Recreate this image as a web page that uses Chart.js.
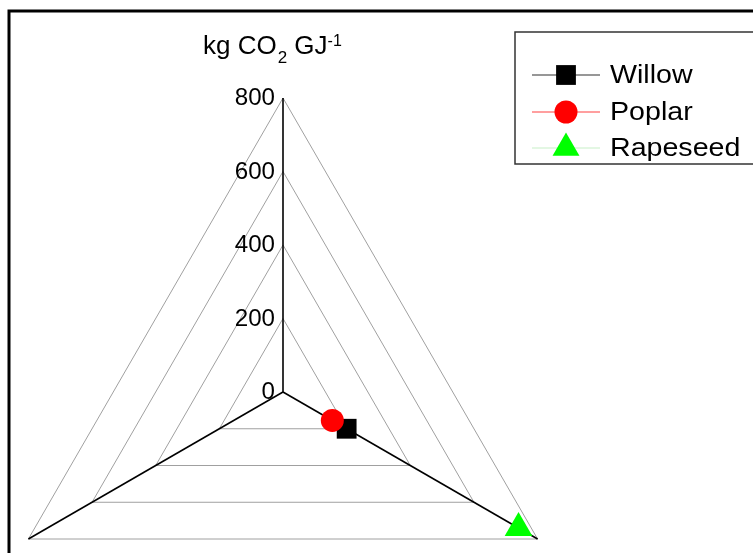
<!DOCTYPE html>
<html>
<head>
<meta charset="utf-8">
<script src="https://cdn.jsdelivr.net/npm/chart.js@4.4.1/dist/chart.umd.min.js"></script>
<style>
  html, body { margin: 0; padding: 0; background: #fff; overflow: hidden; width: 753px; height: 553px; }
  #wrap { position: absolute; left: -20px; top: 0; }
</style>
</head>
<body>
<div id="wrap"><canvas id="c" width="800" height="700"></canvas></div>
<script>
// three unlabelled radar axes, only the 2nd one carries values
const axes = ['', '', ''];
const seriesNames = ['Willow', 'Poplar', 'Rapeseed'];
const willow = [null, 200, null];
const poplar = [null, 155, null];
const rapeseed = [null, 740, null];
const tickValues = [0, 200, 400, 600, 800];
const tickLabels = ['0', '200', '400', '600', '800'];

const OX = 20; // canvas is shifted 20px left of the page
const FONT = '"Liberation Sans", Arial, sans-serif';

const decor = {
  id: 'decor',
  afterDraw(chart) {
    const ctx = chart.ctx;
    const r = chart.scales.r;
    ctx.save();

    // plot frame (left + top edges visible)
    ctx.strokeStyle = '#000';
    ctx.lineWidth = 3;
    ctx.beginPath();
    ctx.moveTo(9 + OX, 720);
    ctx.lineTo(9 + OX, 11);
    ctx.lineTo(800, 11);
    ctx.stroke();

    // tick labels left of the vertical axis
    ctx.fillStyle = '#000';
    ctx.font = '23px ' + FONT;
    ctx.textAlign = 'right';
    ctx.textBaseline = 'middle';
    r.ticks.forEach(t => {
      const d = r.getDistanceFromCenterForValue(t.value);
      ctx.save();
      ctx.translate(r.xCenter - 8, r.yCenter - d + 1);
      ctx.scale(1.05, 1);
      ctx.fillText(t.label, 0, 0);
      ctx.restore();
    });

    // axis title: kg CO2 GJ-1
    ctx.textAlign = 'left';
    ctx.textBaseline = 'alphabetic';
    let x = 203 + OX;
    ctx.font = '26px ' + FONT;
    ctx.fillText('kg CO', x, 54);
    x += ctx.measureText('kg CO').width + 1;
    ctx.font = '17px ' + FONT;
    ctx.fillText('2', x, 63);
    x += ctx.measureText('2').width;
    ctx.font = '26px ' + FONT;
    ctx.fillText(' GJ', x, 54);
    x += ctx.measureText(' GJ').width;
    ctx.font = '16px ' + FONT;
    ctx.fillText('-1', x, 46);

    // legend box
    ctx.strokeStyle = '#333';
    ctx.lineWidth = 1.5;
    ctx.strokeRect(515 + OX, 32, 300, 132);
    const rows = [75, 112, 148];
    chart.data.datasets.forEach((ds, i) => {
      const y = rows[i];
      ctx.strokeStyle = ds.borderColor;
      ctx.lineWidth = 1.2;
      ctx.beginPath();
      ctx.moveTo(532 + OX, y);
      ctx.lineTo(600 + OX, y);
      ctx.stroke();
      ctx.fillStyle = ds.pointBackgroundColor;
      ctx.strokeStyle = ds.pointBackgroundColor;
      Chart.helpers.drawPoint(ctx, {
        pointStyle: ds.pointStyle,
        radius: ds.legendRadius,
        rotation: 0,
        borderWidth: 0
      }, 566 + OX, y);
      ctx.fillStyle = '#000';
      ctx.font = '26px ' + FONT;
      ctx.save();
      ctx.translate(610 + OX, y + 8);
      ctx.scale(1.1, 1);
      ctx.fillText(ds.label, 0, 0);
      ctx.restore();
    });

    ctx.restore();
  }
};

new Chart(document.getElementById('c'), {
  type: 'radar',
  data: {
    labels: axes,
    datasets: [
      {
        label: seriesNames[0], data: willow, order: 1,
        borderColor: '#303030', borderWidth: 1, backgroundColor: 'transparent',
        pointStyle: 'rect', pointRadius: 14, legendRadius: 14,
        pointBackgroundColor: '#000', pointBorderWidth: 0
      },
      {
        label: seriesNames[1], data: poplar, order: 0,
        borderColor: '#ff4040', borderWidth: 1, backgroundColor: 'transparent',
        pointStyle: 'circle', pointRadius: 11.5, legendRadius: 11.5,
        pointBackgroundColor: '#ff0000', pointBorderWidth: 0
      },
      {
        label: seriesNames[2], data: rapeseed, order: 2,
        borderColor: '#c8f0c8', borderWidth: 1, backgroundColor: 'transparent',
        pointStyle: 'triangle', pointRadius: 16, legendRadius: 15.5,
        pointBackgroundColor: '#00ff00', pointBorderWidth: 0
      }
    ]
  },
  options: {
    responsive: false,
    maintainAspectRatio: false,
    animation: false,
    layout: { padding: { left: 0, right: 194, top: 98, bottom: 14 } },
    plugins: { legend: { display: false }, tooltip: { enabled: false } },
    scales: {
      r: {
        min: 0,
        max: 800,
        startAngle: 0,
        ticks: {
          display: false,
          stepSize: 200,
          callback: v => tickLabels[tickValues.indexOf(v)]
        },
        grid: { color: '#a0a0a0', lineWidth: 1 },
        angleLines: { color: '#000', lineWidth: 1.6 },
        pointLabels: { display: false }
      }
    }
  },
  plugins: [decor]
});
</script>
</body>
</html>
